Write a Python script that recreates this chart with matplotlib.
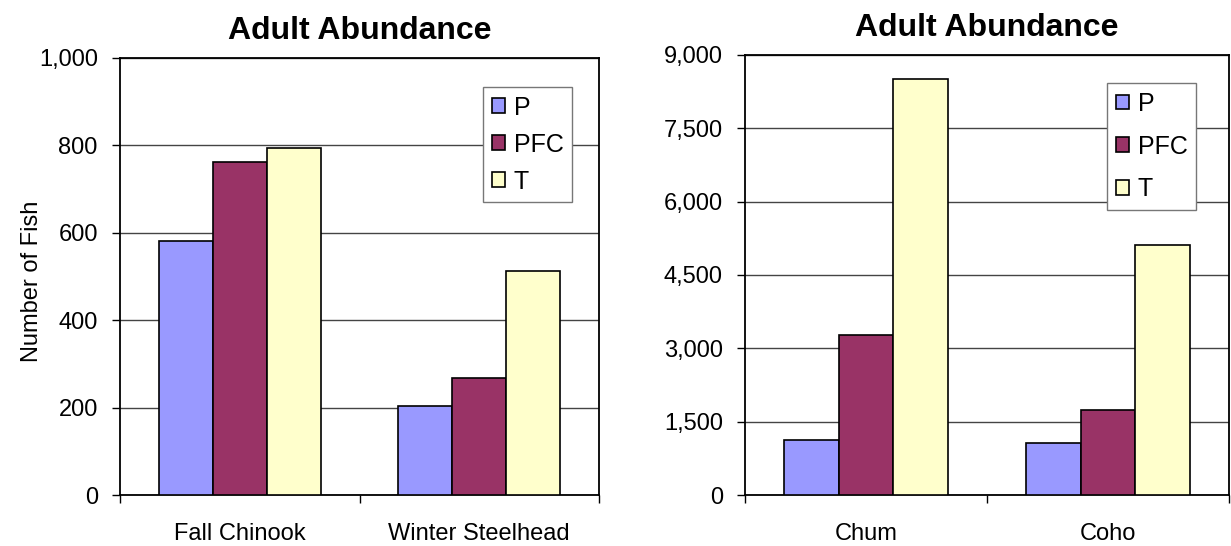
import matplotlib.pyplot as plt
from matplotlib.patches import Patch
from matplotlib.ticker import FuncFormatter, FixedLocator
import numpy as np

plt.rcParams['font.family'] = ['Liberation Sans', 'DejaVu Sans']

series = ["P", "PFC", "T"]
colors = ["#9999FF", "#993366", "#FFFFCC"]

left_species = ["Fall Chinook", "Winter Steelhead"]
left_values = {
    "P": [582, 204],
    "PFC": [763, 267],
    "T": [794, 513],
}
left_ticks = [0, 200, 400, 600, 800, 1000]

right_species = ["Chum", "Coho"]
right_values = {
    "P": [1134, 1063],
    "PFC": [3274, 1747],
    "T": [8509, 5114],
}
right_ticks = [0, 1500, 3000, 4500, 6000, 7500, 9000]

bar_w = 0.225


def draw_panel(ax, species, values, yticks, legend_anchor, spacing):
    x = np.arange(len(species))
    for i, name in enumerate(series):
        ax.bar(x + (i - 1) * bar_w, values[name], bar_w, color=colors[i],
               edgecolor="black", linewidth=1.2, zorder=3)

    ax.set_xlim(-0.5, len(species) - 0.5)
    ax.set_ylim(yticks[0], yticks[-1])
    ax.set_yticks(yticks)
    ax.yaxis.set_major_formatter(FuncFormatter(lambda v, p: f"{int(v):,}"))
    ax.yaxis.grid(True, color="#444444", linewidth=1.0, zorder=0)

    # category boundaries carry the tick marks, names sit at the centres
    ax.xaxis.set_major_locator(FixedLocator(np.arange(len(species) + 1) - 0.5))
    ax.xaxis.set_major_formatter(FuncFormatter(lambda v, p: ""))
    ax.set_xticks(x, minor=True)
    ax.set_xticklabels(species, minor=True)
    ax.tick_params(axis="x", which="major", direction="out", length=6, width=1)
    ax.tick_params(axis="x", which="minor", length=0, pad=20, labelsize=17)
    ax.tick_params(axis="y", direction="out", length=6, width=1, labelsize=17, pad=10)

    for s in ax.spines.values():
        s.set_color("black")
        s.set_linewidth(1.3)

    handles = [Patch(facecolor=c, edgecolor="black", linewidth=1.2) for c in colors]
    leg = ax.legend(handles, series, loc="upper left", bbox_to_anchor=legend_anchor,
                    fontsize=18, frameon=True, fancybox=False, framealpha=1,
                    edgecolor="#777777", handlelength=0.52, handleheight=0.52,
                    handletextpad=0.35, labelspacing=spacing, borderpad=0.35,
                    borderaxespad=0)
    leg.get_frame().set_linewidth(1.0)
    leg.set_zorder(5)

    ax.set_title("Adult Abundance", fontsize=23, fontweight="bold", pad=14)


fig = plt.figure(figsize=(12.31, 5.46), dpi=100)
ax1 = fig.add_axes([0.0975, 0.0934, 0.3891, 0.8004])
ax2 = fig.add_axes([0.6052, 0.0934, 0.3932, 0.8059])

draw_panel(ax1, left_species, left_values, left_ticks, (0.758, 0.934), 0.52)
draw_panel(ax2, right_species, right_values, right_ticks, (0.748, 0.936), 0.75)

fig.text(32 / 1231, 1 - 281 / 546, "Number of Fish", fontsize=17,
         rotation=90, ha="center", va="center")

fig.savefig("out.png", dpi=100)
